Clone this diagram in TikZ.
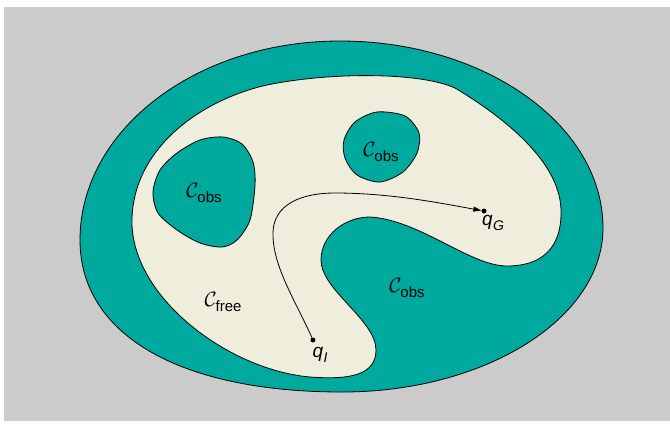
\documentclass[tikz,border=0pt]{standalone}
\usepackage{fontspec}
\setmainfont{Liberation Sans}
\usetikzlibrary{arrows.meta}
\definecolor{bggray}{RGB}{203,203,203}
\definecolor{obsteal}{RGB}{0,169,157}
\definecolor{freecream}{RGB}{239,237,220}
\newcommand{\cspacelbl}[1]{{\fontsize{21}{24}\selectfont$\mathcal{C}$}\kern-1pt\raisebox{-5pt}{\fontsize{15}{16}\selectfont #1}}
\newcommand{\qlbl}[1]{{\fontsize{19}{22}\selectfont\itshape q}\kern0.5pt\raisebox{-5pt}{\fontsize{14}{15}\selectfont\itshape #1}}
\begin{document}
\begin{tikzpicture}[x=1pt,y=-1pt,
  region/.style={draw=black,line width=0.8pt,line join=round},
  lbl/.style={inner sep=0pt},
  dot/.style={circle,fill=black,inner sep=0pt,minimum size=5pt},
  pathline/.style={draw=black,line width=0.8pt,-{Triangle[length=8pt,width=5pt]}}]
\useasboundingbox (0,0) rectangle (670,424);
\fill[white] (0,0) rectangle (670,424);
\fill[bggray] (3.5,7) rectangle (670,421);
% outer configuration space
\path[region,fill=obsteal] (340,41)
  .. controls (485,41) and (603,125) .. (603,228)
  .. controls (603,318) and (486,392) .. (342,392)
  .. controls (180,392) and (80,335) .. (80,240)
  .. controls (80,130) and (196,41) .. (340,41) -- cycle;
% free space
\path[region,fill=freecream] (132,225)
  .. controls (130,150) and (200,100) .. (267,85)
  .. controls (330,72) and (420,72) .. (455,88)
  .. controls (500,115) and (560,160) .. (561,210)
  .. controls (562,250) and (540,266) .. (507,266)
  .. controls (470,266) and (420,220) .. (370,217)
  .. controls (345,217) and (321,235) .. (321,260)
  .. controls (321,290) and (376,320) .. (376,350)
  .. controls (376,375) and (350,380) .. (310,377)
  .. controls (230,370) and (135,300) .. (132,225) -- cycle;
% left obstacle
\path[region,fill=obsteal] plot[smooth cycle] coordinates {
  (223,137) (242,144) (253,162) (255,185) (250,220) (237,240) (222,247)
  (200,243) (177,230) (158,213) (153,192) (160,170) (177,153) (200,140)};
% top obstacle
\path[region,fill=obsteal] plot[smooth cycle] coordinates {
  (377,112) (405,116) (419,133) (417,153) (403,172) (380,182) (357,175)
  (345,158) (344,140) (355,122)};
% labels
\node[lbl] (obsL) at (204,193) {\cspacelbl{obs}};
\node[lbl] (obsT) at (381,152) {\cspacelbl{obs}};
\node[lbl] (obsB) at (407,288) {\cspacelbl{obs}};
\node[lbl] (free) at (223,302) {\cspacelbl{free}};
% start and goal
\node[dot] (qI) at (313,340) {};
\node[dot] (qG) at (484,211) {};
\node[lbl] (qIl) at (320,355) {\qlbl{I}};
\node[lbl] (qGl) at (493,223) {\qlbl{G}};
\coordinate (turnA) at (273,232);
\coordinate (turnB) at (335,193);
\draw[pathline] (qI) .. controls (295,300) and (272,265) .. (turnA)
  .. controls (274,205) and (300,193) .. (turnB)
  .. controls (390,193) and (440,203) .. (qG);
\end{tikzpicture}
\end{document}
